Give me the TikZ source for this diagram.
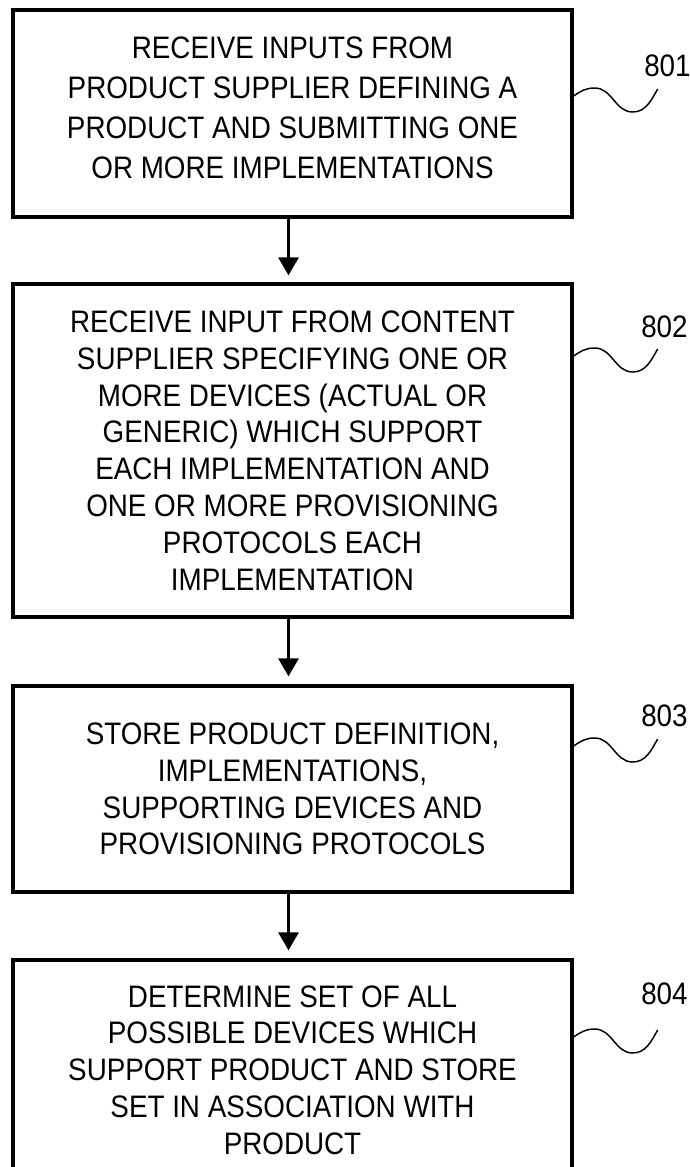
\documentclass[tikz,border=0pt]{standalone}
\usepackage{fontspec}
\setmainfont{Liberation Sans}[FakeStretch=0.895]
\usetikzlibrary{arrows.meta}
\begin{document}
\begin{tikzpicture}[x=0.75pt,y=-0.75pt,
  stepbox/.style={draw,line width=2.5pt,minimum width=419.25pt,align=center,
    inner sep=0pt,font=\fontsize{23.3pt}{27.6pt}\selectfont},
  flow/.style={line width=2.3pt,-{Triangle[width=15pt,length=13.5pt]}},
  lead/.style={line width=1.1pt},
  refnum/.style={anchor=west,inner sep=0pt,font=\fontsize{23.3pt}{27pt}\selectfont}]
\clip (0,0) rectangle (689,1167);
\fill[white] (0,0) rectangle (689,1167);

\node[stepbox,minimum height=155.25pt,text depth=8.5pt,
  font=\fontsize{23.3pt}{30pt}\selectfont] (b1) at (292.5,113.5)
  {RECEIVE INPUTS FROM\\PRODUCT SUPPLIER DEFINING A\\PRODUCT AND SUBMITTING ONE\\OR MORE IMPLEMENTATIONS};
\node[stepbox,minimum height=249.75pt] (b2) at (292.5,450.5)
  {RECEIVE INPUT FROM CONTENT\\SUPPLIER SPECIFYING ONE OR\\MORE DEVICES (ACTUAL OR\\GENERIC) WHICH SUPPORT\\EACH IMPLEMENTATION AND\\ONE OR MORE PROVISIONING\\PROTOCOLS EACH\\IMPLEMENTATION};
\node[stepbox,minimum height=154.5pt] (b3) at (292.5,789)
  {STORE PRODUCT DEFINITION,\\IMPLEMENTATIONS,\\SUPPORTING DEVICES AND\\PROVISIONING PROTOCOLS};
\node[stepbox,minimum height=165pt] (b4) at (292.5,1070)
  {DETERMINE SET OF ALL\\POSSIBLE DEVICES WHICH\\SUPPORT PRODUCT AND STORE\\SET IN ASSOCIATION WITH\\PRODUCT};

\draw[flow] ([xshift=-3pt]b1.south) -- ([xshift=-3pt,yshift=5.25pt]b2.north);
\draw[flow] ([xshift=-3pt]b2.south) -- ([xshift=-3pt,yshift=6pt]b3.north);
\draw[flow] ([xshift=-3pt]b3.south) -- ([xshift=-3pt,yshift=6pt]b4.north);

\node[refnum] (r1) at (644,66) {801};
\node[refnum] (r2) at (641,327) {802};
\node[refnum] (r3) at (641,716) {803};
\node[refnum] (r4) at (641,994) {804};

\coordinate (s1) at (b1.east |- 0,96);
\coordinate (s2) at (b2.east |- 0,356);
\coordinate (s3) at (b3.east |- 0,746);
\coordinate (s4) at (b4.east |- 0,1037);
\foreach \s in {s1,s2,s3,s4}{
  \draw[lead] (\s) to[out=35,in=180] ++(21,-8) to[out=0,in=180] ++(38,24) to[out=0,in=240] ++(25,-23);
}
\end{tikzpicture}
\end{document}
